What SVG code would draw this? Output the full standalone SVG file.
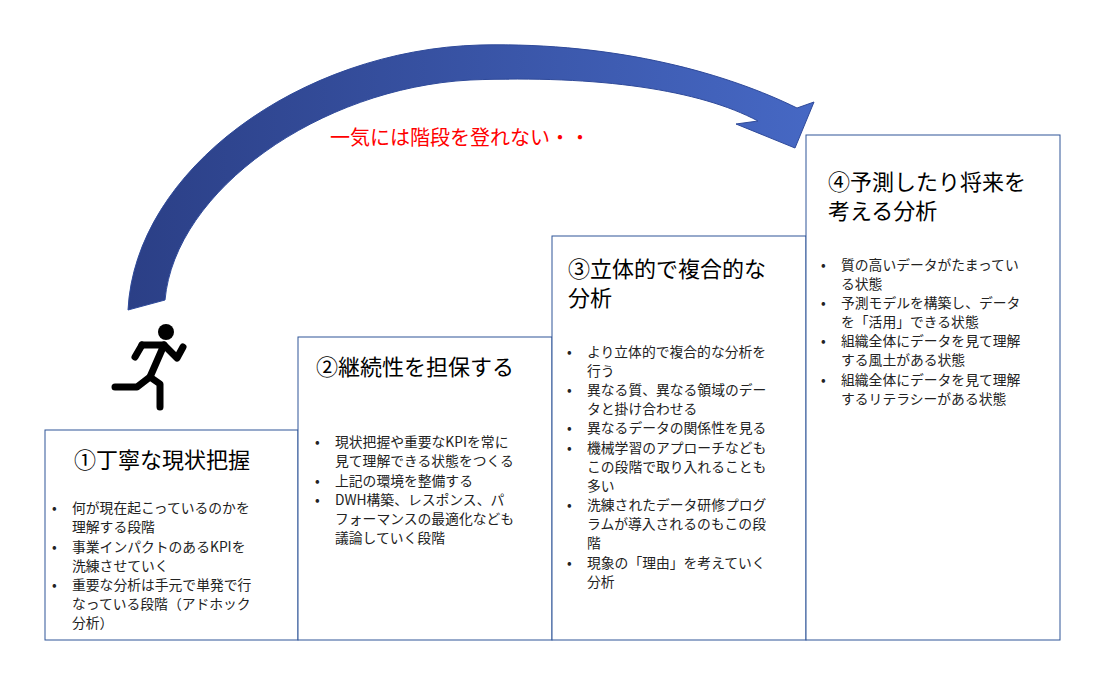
<svg xmlns="http://www.w3.org/2000/svg" width="1107" height="680" viewBox="0 0 1107 680">
<style>
.b{fill:#fff;stroke:#2F5597;stroke-width:1}
.t{font-family:"Noto Sans CJK JP","Liberation Sans",sans-serif;font-size:22px;fill:#000}
.s{font-family:"Noto Sans CJK JP","Liberation Sans",sans-serif;font-size:13.8px;fill:#222}
.r{stroke:#000;stroke-width:7;stroke-linecap:round;stroke-linejoin:round;fill:none}
</style>
<defs><linearGradient id="g" x1="0" y1="0" x2="1" y2="0"><stop offset="0" stop-color="#2B3F86"/><stop offset="1" stop-color="#4668C4"/></linearGradient></defs>
<rect width="1107" height="680" fill="#fff"/>
<g id="connectors">
<path d="M128,310 C135,170 300,50 480,45 C620,42 730,75 797,108 L814,102 L795,148 L736,124 L758,121 C700,90 600,75 470,80 C320,88 175,190 165,300 Z" fill="url(#g)" stroke="#2F4A9A" stroke-width="1"/>
</g>
<text x="330" y="145" font-family="Noto Sans CJK JP,sans-serif" font-size="20" fill="#FF0000">一気には階段を登れない・・</text>
<g id="runner" class="r">
<circle cx="166" cy="332" r="8" fill="#000" stroke="none"/>
<path d="M142,345 L164,345 L150,377 L137,387 L115,387"/>
<path d="M142,345 L135,357"/>
<path d="M164,345 L177,358 L183,347"/>
<path d="M150,377 L160,384 L160,407"/>
</g>
<g id="n1"><rect class="b" x="45" y="430" width="253" height="210"/>
<text class="t" x="74" y="468">①丁寧な現状把握</text>
<g class="s"><text x="52" y="513">•</text><text x="72" y="513">何が現在起こっているのかを</text><text x="72" y="532">理解する段階</text>
<text x="52" y="552">•</text><text x="72" y="552">事業インパクトのあるKPIを</text><text x="72" y="571">洗練させていく</text>
<text x="52" y="590">•</text><text x="72" y="590">重要な分析は手元で単発で行</text><text x="72" y="609">なっている段階（アドホック</text><text x="72" y="628">分析）</text></g></g>
<g id="n2"><rect class="b" x="298" y="337" width="254" height="303"/>
<text class="t" x="316" y="375">②継続性を担保する</text>
<g class="s"><text x="315" y="447">•</text><text x="335" y="447">現状把握や重要なKPIを常に</text><text x="335" y="466">見て理解できる状態をつくる</text>
<text x="315" y="486">•</text><text x="335" y="486">上記の環境を整備する</text>
<text x="315" y="505">•</text><text x="335" y="505">DWH構築、レスポンス、パ</text><text x="335" y="524">フォーマンスの最適化なども</text><text x="335" y="543">議論していく段階</text></g></g>
<g id="n3"><rect class="b" x="552" y="236" width="254" height="404"/>
<text class="t" x="568" y="277">③立体的で複合的な</text><text class="t" x="568" y="306">分析</text>
<g class="s"><text x="567" y="357">•</text><text x="587" y="357">より立体的で複合的な分析を</text><text x="587" y="376">行う</text>
<text x="567" y="395">•</text><text x="587" y="395">異なる質、異なる領域のデー</text><text x="587" y="414">タと掛け合わせる</text>
<text x="567" y="433">•</text><text x="587" y="433">異なるデータの関係性を見る</text>
<text x="567" y="453">•</text><text x="587" y="453">機械学習のアプローチなども</text><text x="587" y="472">この段階で取り入れることも</text><text x="587" y="491">多い</text>
<text x="567" y="510">•</text><text x="587" y="510">洗練されたデータ研修プログ</text><text x="587" y="529">ラムが導入されるのもこの段</text><text x="587" y="548">階</text>
<text x="567" y="568">•</text><text x="587" y="568">現象の「理由」を考えていく</text><text x="587" y="587">分析</text></g></g>
<g id="n4"><rect class="b" x="806" y="135" width="254" height="505"/>
<text class="t" x="828" y="190">④予測したり将来を</text><text class="t" x="828" y="219">考える分析</text>
<g class="s"><text x="821" y="270">•</text><text x="841" y="270">質の高いデータがたまってい</text><text x="841" y="289">る状態</text>
<text x="821" y="308">•</text><text x="841" y="308">予測モデルを構築し、データ</text><text x="841" y="327">を「活用」できる状態</text>
<text x="821" y="346">•</text><text x="841" y="346">組織全体にデータを見て理解</text><text x="841" y="365">する風土がある状態</text>
<text x="821" y="385">•</text><text x="841" y="385">組織全体にデータを見て理解</text><text x="841" y="404">するリテラシーがある状態</text></g></g>
</svg>
